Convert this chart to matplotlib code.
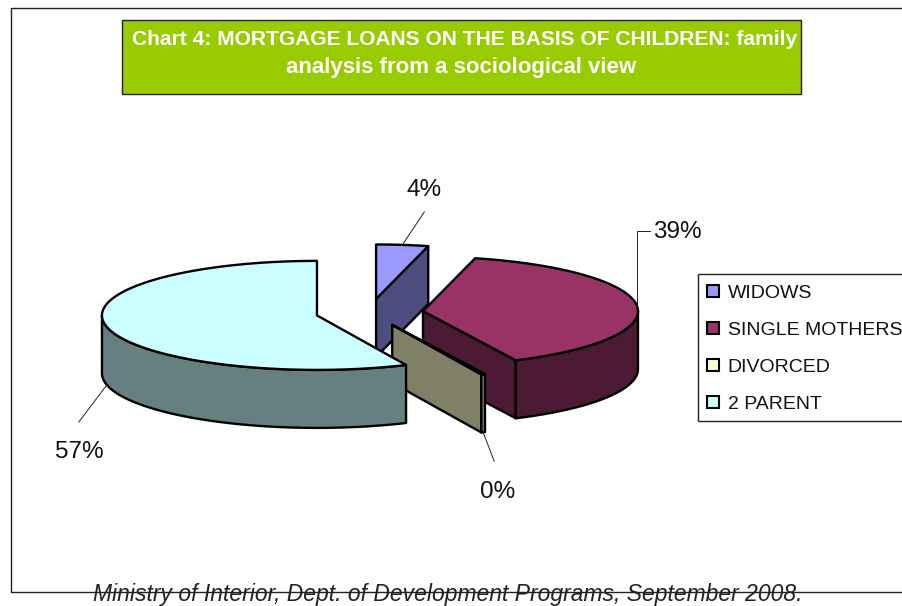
import numpy as np
import matplotlib
matplotlib.use("Agg")
import matplotlib.pyplot as plt
from matplotlib.patches import Polygon, Patch, Rectangle

# ---- data ----
categories = ["WIDOWS", "SINGLE MOTHERS", "DIVORCED", "2 PARENT"]
values = [3.9, 39.0, 0.3, 56.8]
face_colors = ["#9999FF", "#993366", "#FFFFCC", "#CCFFFF"]
side_colors = ["#4D4D80", "#4D1A33", "#808066", "#668080"]
title_text = "Chart 4: MORTGAGE LOANS ON THE BASIS OF CHILDREN: family\nanalysis from a sociological view"
footer_text = "Ministry of Interior, Dept. of Development Programs, September 2008."

plt.rcParams["font.family"] = ["Liberation Sans", "DejaVu Sans"]
fig = plt.figure(figsize=(9.03, 6.06), dpi=100)
ax = fig.add_axes([0, 0, 1, 1])
ax.set_xlim(0, 903)
ax.set_ylim(606, 0)
ax.axis("off")

# frame
ax.plot([903, 11, 11, 903], [8, 8, 592, 592], color="#222222", lw=1.0, zorder=1, clip_on=False)

# title box
ax.add_patch(Rectangle((122.5, 19.5), 679, 74, fc="#99CC00", ec="#222222", lw=1.0, zorder=2))
t1, t2 = title_text.split("\n")
ax.text(465, 39.5, t1, color="white", fontweight="bold", fontsize=15.1, ha="center", va="center", zorder=3)
ax.text(461, 67, t2, color="white", fontweight="bold", fontsize=16, ha="center", va="center", zorder=3)

# pie geometry
CX, CY, RX, RY, DEPTH, EXPLODE = 369.5, 312.5, 215.0, 54.5, 58.0, 0.25
LW = 1.7


def pt(theta, ax_x=0.0, ax_y=0.0, r=1.0):
    return ax_x + r * RX * np.sin(np.radians(theta)), ax_y - r * RY * np.cos(np.radians(theta))


fractions = np.array(values) / sum(values)
ends = np.cumsum(fractions) * 360
starts = np.concatenate([[0], ends[:-1]])
slices = []
for s, e in zip(starts, ends):
    mid = (s + e) / 2
    apex = pt(mid, CX, CY, EXPLODE)
    slices.append((s, e, mid, apex))

for (s, e, mid, (ax0, ay0)), fc, sc in zip(slices, face_colors, side_colors):
    # radial end face
    ex, ey = pt(e, ax0, ay0)
    if e < 359:
        ax.add_patch(Polygon([(ax0, ay0), (ex, ey), (ex, ey + DEPTH), (ax0, ay0 + DEPTH)],
                             fc=sc, ec="black", lw=LW, joinstyle="round", zorder=4))
    # visible outer wall
    lo, hi = max(s, 90), min(e, 270)
    if hi > lo:
        th = np.linspace(lo, hi, 120)
        xs, ys = pt(th, ax0, ay0)
        ax.add_patch(Polygon(np.r_[np.c_[xs, ys], np.c_[xs[::-1], ys[::-1] + DEPTH]],
                             fc=sc, ec="black", lw=LW, joinstyle="round", zorder=4))
    # top face
    th = np.linspace(s, e, 200)
    xs, ys = pt(th, ax0, ay0)
    ax.add_patch(Polygon(np.r_[[(ax0, ay0)], np.c_[xs, ys]], fc=fc, ec="black", lw=LW,
                         joinstyle="round", zorder=4))

# percentage labels with leader lines
elbows = [[(22, -33)], [(0, -75), (13, -75)], [(11, 29)], [(-28, 37)]]
label_pos = [(424, 190), (677, 232), (497.5, 492), (79, 452)]
for (s, e, mid, (ax0, ay0)), v, elbow, lp in zip(slices, values, elbows, label_pos):
    x0, y0 = pt(mid, ax0, ay0)
    if 90 < mid < 270:
        y0 += DEPTH
    path = [(x0, y0)] + [(x0 + dx, y0 + dy) for dx, dy in elbow]
    ax.plot(*zip(*path), color="#222222", lw=0.7, zorder=5)
    ax.text(lp[0], lp[1], f"{v:.0f}%", fontsize=17.5, color="#111111", ha="center", va="center", zorder=6)

# legend: frame drawn separately so it can run off the right edge as in the reference
ax.add_patch(Rectangle((698.5, 273.5), 220, 147, fc="white", ec="#222222", lw=1.0, zorder=6.5))
handles = [Patch(fc=c, ec="black", lw=1.5) for c in face_colors]
leg = ax.legend(handles, categories, loc="upper left", bbox_to_anchor=(696 / 903, 1 - 273.5 / 606),
                bbox_transform=ax.transAxes, fontsize=14, frameon=False, borderaxespad=0,
                borderpad=0.58, labelspacing=1.02,
                handlelength=0.62, handleheight=0.62, handletextpad=0.42, labelcolor="#111111")
leg.set_zorder(7)

# footer
ax.text(448, 595, footer_text, fontstyle="italic", fontsize=16.5, color="#222222", ha="center", va="center", zorder=8)

fig.savefig("out.png", dpi=100)
